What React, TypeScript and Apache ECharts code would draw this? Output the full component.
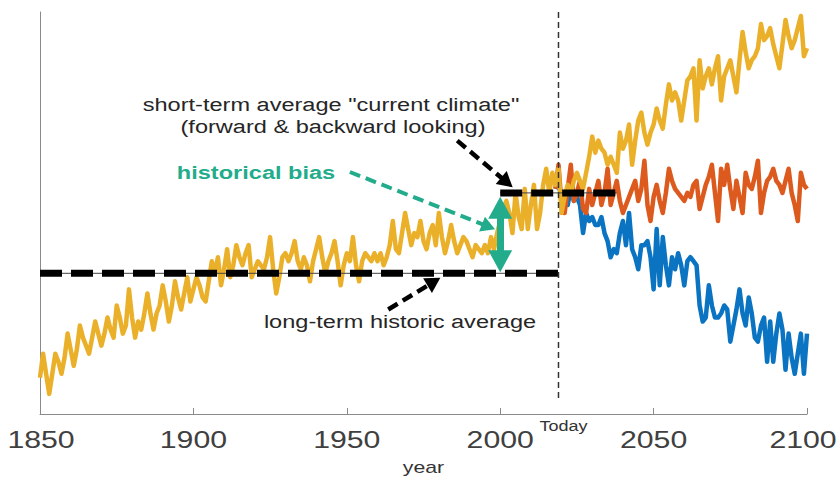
import React, { useEffect, useRef } from "react";
import * as echarts from "echarts";

// ---- data -------------------------------------------------------------
const pathStartYear = 1850;
const scenarioStartYear = 2018;
const xTicks = [1850, 1900, 1950, 2000, 2050, 2100];
const xTickLabels = ["1850", "1900", "1950", "2000", "2050", "2100"];

// yellow: observed record continuing into the warming projection (1850-2100)
const warmingPath = [
  9, 15, 10, 5, 10, 15, 13, 10, 14, 20,
  16, 12, 16, 22, 19, 17, 15, 19, 23, 20,
  17, 20, 24, 21, 19, 27, 24, 20, 22, 31,
  24, 19, 23, 21, 25, 30, 25, 21, 25, 27,
  32, 28, 23, 27, 33, 29, 26, 30, 34, 28,
  31, 34, 32, 29, 28, 33, 38, 35, 39, 32,
  36, 41, 34, 37, 42, 39, 37, 40, 42, 34,
  36, 38, 37, 36, 39, 44, 36, 30, 34, 39,
  40, 38, 40, 43, 38, 36, 39, 37, 33, 38,
  41, 44, 39, 35, 38, 40, 43, 38, 32, 37,
  40, 38, 44, 37, 33, 38, 40, 39, 38, 40,
  38, 40, 37, 39, 42, 48, 41, 40, 45, 50,
  46, 42, 45, 44, 48, 43, 41, 45, 47, 42,
  50, 44, 40, 43, 47, 43, 40, 42, 44, 43,
  41, 39, 42, 41, 40, 42, 40, 44, 41, 45,
  48, 51, 53, 50, 45, 55, 49, 46, 56, 46,
  52, 57, 46, 50, 57, 61, 55, 60, 57, 61,
  50, 54, 57, 55, 58, 60, 58, 56, 60, 64,
  69, 65, 68, 66, 65, 62, 64, 62, 60, 70,
  66, 68, 72, 62, 68, 73, 75, 70, 67, 70,
  72, 76, 73, 71, 77, 82, 78, 80, 78, 73,
  78, 83, 84, 86, 73, 88, 81, 84, 86, 82,
  86, 89, 78, 84, 86, 88, 84, 80, 88, 95,
  90, 86, 88, 89, 91, 97, 93, 94, 96, 92,
  89, 86, 92, 98, 94, 91, 93, 96, 99, 89,
  91,
];

// orange: stabilised scenario (2018-2100)
const stablePath = [
  56, 62, 52, 50, 56, 62, 53, 55, 58, 51,
  50, 56, 52, 55, 58, 52, 55, 61, 52, 55,
  58, 53, 50, 52, 54, 56, 58, 53, 56, 63,
  52, 48, 54, 57, 53, 50, 55, 61, 58, 56,
  55, 54, 53, 55, 54, 57, 58, 51, 54, 57,
  59, 62, 55, 48, 61, 57, 62, 56, 51, 58,
  54, 50, 60, 57, 56, 59, 63, 50, 55, 58,
  59, 61, 58, 57, 55, 58, 61, 55, 52, 48,
  60, 57, 56,
];

// blue: cooling scenario (2018-2100)
const coolingPath = [
  56, 58, 53, 55, 52, 56, 53, 54, 52, 45,
  50, 48, 49, 47, 47, 49, 45, 43, 39, 41,
  40, 45, 48, 42, 50, 41, 39, 36, 42, 42,
  43, 39, 31, 46, 32, 44, 37, 32, 39, 36,
  40, 37, 32, 38, 39, 38, 37, 27, 23, 24,
  32, 27, 24, 24, 25, 27, 26, 18, 22, 26,
  31, 25, 22, 29, 25, 19, 18, 22, 24, 13,
  23, 13, 20, 25, 21, 11, 20, 14, 10, 15,
  20, 10, 20,
];

const longTermAverage = [[1850, 35], [2019, 35]];
const shortTermAverage = [[2000, 55], [2038, 55]];
const todayYear = 2019;
const todayLineSpan = [4, 100];

// annotation arrows (data space; end points are the arrow-head centres)
const biasArrow = [[2000, 38], [2000, 51.3]];
const shortTermPointer = [[1986, 68], [2002.2, 57.6]];
const longTermPointer = [[1963.5, 26], [1978.4, 32.9]];
const biasPointer = [[1951, 60.2], [1996.2, 46.6]];

// ---- helpers ----------------------------------------------------------
const toPairs = (vals: number[], y0: number) => vals.map((v, i) => [y0 + i, v]);
const FONT = '"Liberation Sans", Arial, Helvetica, sans-serif';
const GREEN = "#22AC8B";
const TEXT = "#262626";

function txt(text: string, x: number, y: number, opts: any = {}) {
  return {
    type: "text",
    x,
    y,
    scaleX: opts.scaleX ?? 1.24,
    z: 100,
    silent: true,
    style: {
      text,
      fontSize: opts.fontSize ?? 19,
      fontFamily: FONT,
      fontWeight: opts.fontWeight ?? "normal",
      fill: opts.fill ?? TEXT,
      align: "center",
      verticalAlign: "middle",
      textAlign: "center",
      textVerticalAlign: "middle",
    },
  };
}

export default function App() {
  const ref = useRef<HTMLDivElement>(null);

  useEffect(() => {
    if (!ref.current) return;
    const chart = echarts.init(ref.current, undefined, { renderer: "svg" });

    const option: any = {
      animation: false,
      backgroundColor: "#ffffff",
      grid: { left: 40, right: 33, top: 12, bottom: 66, containLabel: false },
      xAxis: {
        type: "value",
        min: 1850,
        max: 2100,
        interval: 50,
        axisLine: { show: true, lineStyle: { color: "#8a8a8a", width: 1 } },
        axisTick: { show: true, inside: true, length: 6, lineStyle: { color: "#8a8a8a" } },
        axisLabel: { show: false },
        splitLine: { show: false },
      },
      yAxis: {
        type: "value",
        min: 0,
        max: 100,
        axisLine: { show: true, lineStyle: { color: "#8a8a8a", width: 1 } },
        axisTick: { show: false },
        axisLabel: { show: false },
        splitLine: { show: false },
      },
      series: [
        {
          name: "cooling",
          type: "line",
          data: toPairs(coolingPath, scenarioStartYear),
          symbol: "none",
          lineStyle: { color: "#0A74C2", width: 4.5, join: "round" },
          z: 2,
        },
        {
          name: "stable",
          type: "line",
          data: toPairs(stablePath, scenarioStartYear),
          symbol: "none",
          lineStyle: { color: "#DC5A1E", width: 4.5, join: "round" },
          z: 3,
        },
        {
          name: "warming",
          type: "line",
          data: toPairs(warmingPath, pathStartYear),
          symbol: "none",
          lineStyle: { color: "#EBB02A", width: 4.5, join: "round" },
          z: 4,
        },
        {
          name: "longTermThin",
          type: "line",
          data: longTermAverage,
          symbol: "none",
          lineStyle: { color: "#444", width: 1 },
          z: 5,
        },
        {
          name: "shortTermThin",
          type: "line",
          data: shortTermAverage,
          symbol: "none",
          lineStyle: { color: "#444", width: 1 },
          z: 5,
        },
        {
          name: "longTermAverage",
          type: "line",
          data: longTermAverage,
          symbol: "none",
          lineStyle: { color: "#000", width: 7, type: [22, 9], cap: "butt" },
          z: 6,
        },
        {
          name: "shortTermAverage",
          type: "line",
          data: shortTermAverage,
          symbol: "none",
          lineStyle: { color: "#000", width: 7, type: [22, 9], cap: "butt" },
          z: 6,
        },
        {
          name: "today",
          type: "line",
          data: todayLineSpan.map((v) => [todayYear, v]),
          symbol: "none",
          lineStyle: { color: "#333", width: 1.5, type: [6, 4] },
          z: 7,
        },
        {
          name: "biasArrow",
          type: "line",
          data: [],
          z: 8,
          markLine: {
            silent: true,
            animation: false,
            symbol: ["triangle", "triangle"],
            symbolSize: [24, 22],
            label: { show: false },
            emphasis: { disabled: true },
            lineStyle: { color: GREEN, width: 7, type: "solid" },
            data: [[{ coord: biasArrow[0] }, { coord: biasArrow[1] }]],
          },
        },
        {
          name: "blackPointers",
          type: "line",
          data: [],
          z: 8,
          markLine: {
            silent: true,
            animation: false,
            symbol: ["none", "triangle"],
            symbolSize: [17, 15],
            label: { show: false },
            emphasis: { disabled: true },
            lineStyle: { color: "#000", width: 4.5, type: [11, 6], cap: "butt" },
            data: [
              [{ coord: shortTermPointer[0] }, { coord: shortTermPointer[1] }],
              [{ coord: longTermPointer[0] }, { coord: longTermPointer[1] }],
            ],
          },
        },
        {
          name: "greenPointer",
          type: "line",
          data: [],
          z: 8,
          markLine: {
            silent: true,
            animation: false,
            symbol: ["none", "triangle"],
            symbolSize: [16, 14],
            label: { show: false },
            emphasis: { disabled: true },
            lineStyle: { color: GREEN, width: 4, type: [11, 6], cap: "butt" },
            data: [[{ coord: biasPointer[0] }, { coord: biasPointer[1] }]],
          },
        },
      ],
    };

    chart.setOption(option);

    const graphics: any[] = [];
    xTicks.forEach((t, i) => {
      const p = chart.convertToPixel({ gridIndex: 0 }, [t, 0]) as number[];
      const shift = i === xTicks.length - 1 ? -4 : i === 0 ? 1 : 0;
      graphics.push(
        txt(xTickLabels[i], p[0] + shift, p[1] + 26, { fontSize: 24, scaleX: 1.26, fill: "#404040" })
      );
    });
    const tp = chart.convertToPixel({ gridIndex: 0 }, [todayYear, 0]) as number[];
    graphics.push(txt("Today", tp[0] + 5, tp[1] + 12, { fontSize: 15, scaleX: 1.2, fill: "#333" }));
    const mid = chart.convertToPixel({ gridIndex: 0 }, [1975, 0]) as number[];
    graphics.push(txt("year", mid[0], mid[1] + 53, { fontSize: 17, scaleX: 1.25, fill: "#333" }));

    graphics.push(txt('short-term average "current climate"', 331, 105));
    graphics.push(txt("(forward & backward looking)", 333, 127));
    graphics.push(txt("historical bias", 256, 173, { fontWeight: "bold", fill: GREEN }));
    graphics.push(txt("long-term historic average", 400, 322));

    chart.setOption({ graphic: graphics });

    return () => chart.dispose();
  }, []);

  return (
    <div
      ref={ref}
      style={{ position: "absolute", left: 0, top: 0, width: 840, height: 480, background: "#fff" }}
    />
  );
}
